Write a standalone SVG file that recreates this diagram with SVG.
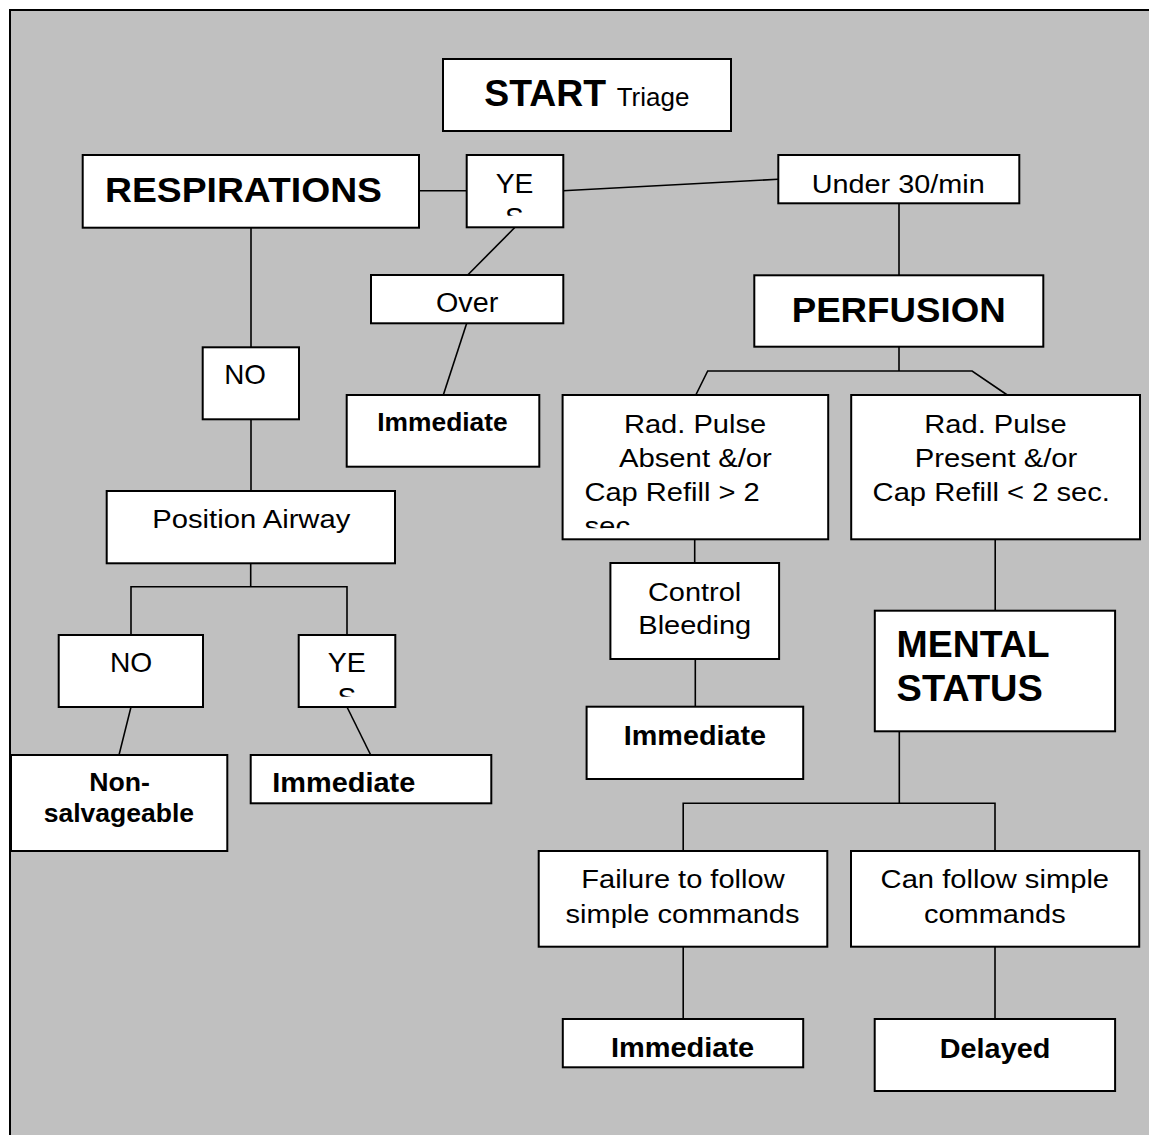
<svg xmlns="http://www.w3.org/2000/svg" width="1149" height="1135" viewBox="0 0 1149 1135">
<style>
.box{fill:#fff;stroke:#000;stroke-width:2}
.ln{stroke:#000;stroke-width:1.6;fill:none}
text{font-family:"Liberation Sans",Arial,sans-serif;fill:#000}
.b{font-weight:bold}
</style>
<defs>
<clipPath id="cYes1"><rect x="467" y="155" width="96" height="60.7"/></clipPath>
<clipPath id="cYes2"><rect x="299" y="635" width="96" height="61.7"/></clipPath>
<clipPath id="cRad"><rect x="563" y="395" width="265" height="133.3"/></clipPath>
</defs>
<rect x="0" y="0" width="1149" height="1135" fill="#fff"/>
<rect x="10" y="10" width="1200" height="1200" fill="#c0c0c0" stroke="#000" stroke-width="2"/>
<g id="connectors">
<line class="ln" x1="419" y1="190.7" x2="467" y2="190.7"/>
<line class="ln" x1="563" y1="190.7" x2="778" y2="179.3"/>
<line class="ln" x1="515" y1="227.3" x2="467.7" y2="275"/>
<line class="ln" x1="466.7" y1="323.3" x2="443.3" y2="395"/>
<line class="ln" x1="251" y1="227.7" x2="251" y2="347.3"/>
<line class="ln" x1="251" y1="419.3" x2="251" y2="491"/>
<polyline class="ln" points="250.7,563.3 250.7,586.7"/>
<polyline class="ln" points="131,635 131,586.7 347,586.7 347,635"/>
<line class="ln" x1="131" y1="707" x2="119" y2="755"/>
<line class="ln" x1="347" y1="707" x2="370.7" y2="755"/>
<line class="ln" x1="899" y1="203.3" x2="899" y2="275.3"/>
<line class="ln" x1="899" y1="346.7" x2="899" y2="371"/>
<polyline class="ln" points="695.8,395 707.7,371 972.1,371 1007.3,395"/>
<line class="ln" x1="694.7" y1="539.3" x2="694.7" y2="563"/>
<line class="ln" x1="695.3" y1="659" x2="695.3" y2="706.7"/>
<line class="ln" x1="995.2" y1="539.3" x2="995.2" y2="610.7"/>
<line class="ln" x1="899.3" y1="731.3" x2="899.3" y2="803.3"/>
<polyline class="ln" points="683.2,851 683.2,803.3 995,803.3 995,851"/>
<line class="ln" x1="683.2" y1="946.7" x2="683.2" y2="1019"/>
<line class="ln" x1="995" y1="946.7" x2="995" y2="1019"/>
</g>
<g id="start">
<rect class="box" x="443" y="59" width="288" height="72"/>
<text class="b" x="484.3" y="105.7" font-size="36.5" textLength="121.7" lengthAdjust="spacingAndGlyphs">START</text>
<text x="616.7" y="105.7" font-size="25" textLength="72.7" lengthAdjust="spacingAndGlyphs">Triage</text>
</g>
<g id="respirations">
<rect class="box" x="82.7" y="155" width="336.3" height="72.7"/>
<text class="b" x="105" y="201.7" font-size="35" textLength="277" lengthAdjust="spacingAndGlyphs">RESPIRATIONS</text>
</g>
<g id="yes1">
<rect class="box" x="466.7" y="155" width="96.6" height="72.3"/>
<g clip-path="url(#cYes1)">
<text x="495.7" y="192.7" font-size="28" textLength="37.7" lengthAdjust="spacingAndGlyphs">YE</text>
<text x="505" y="227" font-size="28">S</text>
</g>
</g>
<g id="under30">
<rect class="box" x="778.3" y="155" width="241" height="48.3"/>
<text x="811.7" y="192.7" font-size="25" textLength="173" lengthAdjust="spacingAndGlyphs">Under 30/min</text>
</g>
<g id="over">
<rect class="box" x="371" y="275" width="192.3" height="48.3"/>
<text x="436" y="311.7" font-size="27" textLength="62.3" lengthAdjust="spacingAndGlyphs">Over</text>
</g>
<g id="perfusion">
<rect class="box" x="754.3" y="275.3" width="289" height="71.4"/>
<text class="b" x="791.7" y="321.7" font-size="35" textLength="214" lengthAdjust="spacingAndGlyphs">PERFUSION</text>
</g>
<g id="no1">
<rect class="box" x="202.7" y="347.3" width="96.3" height="72"/>
<text x="224.3" y="384" font-size="27.5" textLength="41.7" lengthAdjust="spacingAndGlyphs">NO</text>
</g>
<g id="immediate1">
<rect class="box" x="346.7" y="395" width="192.6" height="71.7"/>
<text class="b" x="377.3" y="430.7" font-size="26.5" textLength="130.4" lengthAdjust="spacingAndGlyphs">Immediate</text>
</g>
<g id="radAbsent">
<rect class="box" x="562.6" y="395" width="265.6" height="144.3"/>
<g clip-path="url(#cRad)">
<text x="623.9" y="432.7" font-size="25" textLength="142.3" lengthAdjust="spacingAndGlyphs">Rad. Pulse</text>
<text x="618.9" y="466.7" font-size="25" textLength="153" lengthAdjust="spacingAndGlyphs">Absent &amp;/or</text>
<text x="584.4" y="500.7" font-size="25" textLength="175.3" lengthAdjust="spacingAndGlyphs">Cap Refill &gt; 2</text>
<text x="584.4" y="534.5" font-size="25" textLength="54" lengthAdjust="spacingAndGlyphs">sec.</text>
</g>
</g>
<g id="radPresent">
<rect class="box" x="851.2" y="395" width="288.8" height="144.3"/>
<text x="924.3" y="432.7" font-size="25" textLength="142.3" lengthAdjust="spacingAndGlyphs">Rad. Pulse</text>
<text x="914.7" y="466.7" font-size="25" textLength="162.6" lengthAdjust="spacingAndGlyphs">Present &amp;/or</text>
<text x="872.6" y="500.7" font-size="25" textLength="237.3" lengthAdjust="spacingAndGlyphs">Cap Refill &lt; 2 sec.</text>
</g>
<g id="positionAirway">
<rect class="box" x="106.7" y="491" width="288.3" height="72.3"/>
<text x="152.3" y="528.3" font-size="26.5" textLength="198" lengthAdjust="spacingAndGlyphs">Position Airway</text>
</g>
<g id="controlBleeding">
<rect class="box" x="610.4" y="563" width="168.7" height="96"/>
<text x="647.9" y="600.7" font-size="26.5" textLength="93.3" lengthAdjust="spacingAndGlyphs">Control</text>
<text x="638.3" y="634" font-size="26.5" textLength="112.9" lengthAdjust="spacingAndGlyphs">Bleeding</text>
</g>
<g id="mentalStatus">
<rect class="box" x="874.8" y="610.7" width="240.3" height="120.6"/>
<text class="b" x="896.6" y="656.7" font-size="36" textLength="153" lengthAdjust="spacingAndGlyphs">MENTAL</text>
<text class="b" x="896.6" y="700.7" font-size="36" textLength="146.2" lengthAdjust="spacingAndGlyphs">STATUS</text>
</g>
<g id="no2">
<rect class="box" x="58.7" y="635" width="144.3" height="72"/>
<text x="110" y="672.3" font-size="27.5" textLength="42.3" lengthAdjust="spacingAndGlyphs">NO</text>
</g>
<g id="yes2">
<rect class="box" x="298.7" y="635" width="96.6" height="72"/>
<g clip-path="url(#cYes2)">
<text x="327.7" y="672.3" font-size="28" textLength="38" lengthAdjust="spacingAndGlyphs">YE</text>
<text x="337.5" y="706.5" font-size="28">S</text>
</g>
</g>
<g id="immediate3">
<rect class="box" x="586.6" y="706.7" width="216.6" height="72.3"/>
<text class="b" x="623.8" y="745" font-size="28" textLength="142.3" lengthAdjust="spacingAndGlyphs">Immediate</text>
</g>
<g id="nonSalvageable">
<rect class="box" x="11" y="755" width="216.3" height="96"/>
<text class="b" x="89.3" y="791" font-size="26" textLength="60.7" lengthAdjust="spacingAndGlyphs">Non-</text>
<text class="b" x="43.7" y="821.7" font-size="26" textLength="150.3" lengthAdjust="spacingAndGlyphs">salvageable</text>
</g>
<g id="immediate2">
<rect class="box" x="250.7" y="755" width="240.6" height="48.3"/>
<text class="b" x="272.3" y="792.3" font-size="28" textLength="143" lengthAdjust="spacingAndGlyphs">Immediate</text>
</g>
<g id="failure">
<rect class="box" x="538.7" y="851" width="288.6" height="95.7"/>
<text x="581.3" y="888.3" font-size="25" textLength="203.3" lengthAdjust="spacingAndGlyphs">Failure to follow</text>
<text x="565.5" y="922.7" font-size="25" textLength="234" lengthAdjust="spacingAndGlyphs">simple commands</text>
</g>
<g id="canFollow">
<rect class="box" x="851" y="851" width="288.2" height="95.7"/>
<text x="880.6" y="888.3" font-size="25" textLength="228.5" lengthAdjust="spacingAndGlyphs">Can follow simple</text>
<text x="924" y="922.7" font-size="25" textLength="141.7" lengthAdjust="spacingAndGlyphs">commands</text>
</g>
<g id="immediate4">
<rect class="box" x="562.8" y="1019" width="240.4" height="48.3"/>
<text class="b" x="610.9" y="1056.7" font-size="27" textLength="143.3" lengthAdjust="spacingAndGlyphs">Immediate</text>
</g>
<g id="delayed">
<rect class="box" x="874.7" y="1019" width="240.4" height="72"/>
<text class="b" x="939.8" y="1058.3" font-size="28" textLength="110.5" lengthAdjust="spacingAndGlyphs">Delayed</text>
</g>
</svg>
